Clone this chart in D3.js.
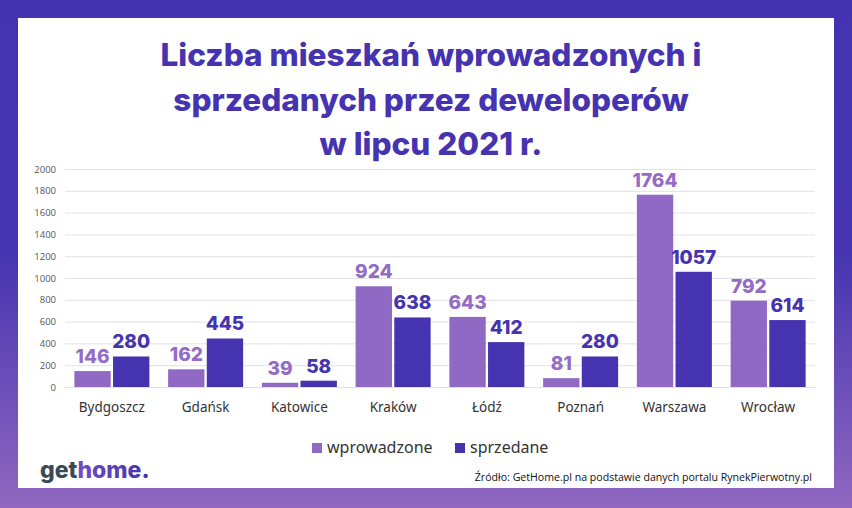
<!DOCTYPE html>
<html><head><meta charset="utf-8">
<script src="https://cdn.jsdelivr.net/npm/d3@7"></script>
<style>html,body{margin:0;padding:0;background:#fff;}svg{display:block;}</style>
</head><body>
<svg id="c" width="852" height="508"></svg>
<script>
const categories = ["Bydgoszcz","Gdańsk","Katowice","Kraków","Łódź","Poznań","Warszawa","Wrocław"];
const seriesNames = ["wprowadzone","sprzedane"];
const wprowadzone = [146,162,39,924,643,81,1764,792];
const sprzedane = [280,445,58,638,412,280,1057,614];
const yTicks = [0,200,400,600,800,1000,1200,1400,1600,1800,2000];
const titleLines = ["Liczba mieszkań wprowadzonych i","sprzedanych przez deweloperów","w lipcu 2021 r."];

const colors = {wprowadzone:"#8f69c3", sprzedane:"#4533b0"};
const labelColors = {wprowadzone:"#946cc6", sprzedane:"#4533b0"};
const svg = d3.select("#c");
const W = 852, H = 508;

const defs = svg.append("defs");
const g1 = defs.append("linearGradient").attr("id","bg").attr("x1",0).attr("y1",0).attr("x2",0).attr("y2",1);
g1.append("stop").attr("offset","0").attr("stop-color","#4432b0");
g1.append("stop").attr("offset","0.5").attr("stop-color","#4634b0");
g1.append("stop").attr("offset","1").attr("stop-color","#9068c0");
const g2 = defs.append("linearGradient").attr("id","logo").attr("x1",0).attr("y1",0).attr("x2",1).attr("y2",0);
g2.append("stop").attr("offset","0").attr("stop-color","#8a5cc2");
g2.append("stop").attr("offset","1").attr("stop-color","#4433b0");

svg.append("rect").attr("width",W).attr("height",H).attr("fill","url(#bg)");
svg.append("rect").attr("x",18).attr("y",18).attr("width",816).attr("height",470).attr("fill","#fff");

// title
svg.append("g").selectAll("text").data(titleLines).join("text")
  .attr("x",431).attr("y",(d,i)=>66+i*44.5)
  .attr("text-anchor","middle")
  .attr("font-family","Inter, 'Noto Sans', sans-serif").attr("font-weight",800)
  .attr("font-size",31.5).attr("fill","#4533b0")
  .text(d=>d);

const x0 = d3.scaleBand().domain(categories).range([65,815]).paddingInner(0.2).paddingOuter(0.1);
const x1 = d3.scaleBand().domain(seriesNames).range([0,x0.bandwidth()]).paddingInner(0.06);
const y = d3.scaleLinear().domain([0,2000]).range([387,169]);

// grid
const gy = svg.append("g").attr("transform","translate(65,0)")
  .call(d3.axisLeft(y).tickValues(yTicks).tickSize(-750).tickPadding(9).tickFormat(d3.format("d")));
gy.select(".domain").remove();
gy.selectAll(".tick line").attr("stroke","#e2e2e2").attr("stroke-width",1);
gy.selectAll(".tick text").attr("font-family","'Open Sans', 'Noto Sans', sans-serif").attr("font-size",9.5).attr("fill","#555");

// x axis
const gx = svg.append("g").attr("transform","translate(0,387)")
  .call(d3.axisBottom(x0).tickSize(0).tickPadding(15));
gx.select(".domain").remove();
gx.selectAll(".tick text").attr("font-family","'Noto Sans', Inter, sans-serif").attr("font-size",13.5).attr("fill","#333");

const data = categories.map((c,i)=>({cat:c, vals:[{k:"wprowadzone",v:wprowadzone[i]},{k:"sprzedane",v:sprzedane[i]}]}));
const grp = svg.append("g").selectAll("g").data(data).join("g").attr("transform",d=>`translate(${x0(d.cat)},0)`);
grp.selectAll("rect").data(d=>d.vals).join("rect")
  .attr("x",d=>x1(d.k)).attr("width",x1.bandwidth())
  .attr("y",d=>y(d.v)).attr("height",d=>y(0)-y(d.v))
  .attr("fill",d=>colors[d.k]);
grp.selectAll("text").data(d=>d.vals).join("text")
  .attr("x",d=>x1(d.k)+x1.bandwidth()/2).attr("y",d=>y(d.v)-8)
  .attr("text-anchor","middle")
  .attr("font-family","Inter, 'Noto Sans', sans-serif").attr("font-weight",800)
  .attr("font-size",19).attr("fill",d=>labelColors[d.k])
  .text(d=>d.v);

// legend
const leg = svg.append("g");
const legItems = [{k:"wprowadzone",x:312},{k:"sprzedane",x:455}];
leg.selectAll("rect").data(legItems).join("rect")
  .attr("x",d=>d.x).attr("y",443).attr("width",10).attr("height",10).attr("fill",d=>colors[d.k]);
leg.selectAll("text").data(legItems).join("text")
  .attr("x",d=>d.x+15).attr("y",453)
  .attr("font-family","'Noto Sans', Inter, sans-serif").attr("font-size",16).attr("fill","#333")
  .text(d=>d.k);

// logo
const logo = svg.append("text").attr("x",40).attr("y",478)
  .attr("font-family","Inter, 'Noto Sans', sans-serif").attr("font-weight",800).attr("font-size",23);
logo.append("tspan").attr("fill","#3b4856").text("get");
logo.append("tspan").attr("fill","url(#logo)").text("home");
logo.append("tspan").attr("fill","#4433b0").text(".");

// source
svg.append("text").attr("x",812).attr("y",481).attr("text-anchor","end")
  .attr("font-family","'Open Sans', 'Liberation Sans', sans-serif").attr("font-size",10.6).attr("fill","#111")
  .text("Źródło: GetHome.pl na podstawie danych portalu RynekPierwotny.pl");
</script>
</body></html>
